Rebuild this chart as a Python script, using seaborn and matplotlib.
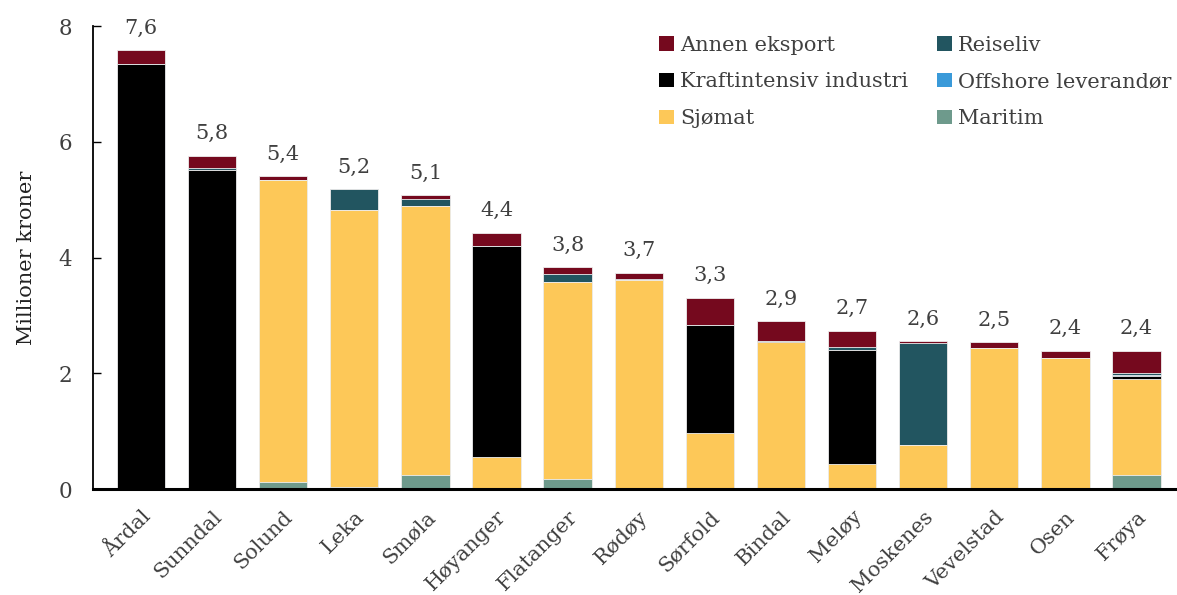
import numpy as np
import pandas as pd
import matplotlib
matplotlib.use("Agg")
import matplotlib.pyplot as plt
import seaborn as sns
from matplotlib.patches import Patch

kommuner = ["Årdal", "Sunndal", "Solund", "Leka", "Smøla", "Høyanger", "Flatanger",
            "Rødøy", "Sørfold", "Bindal", "Meløy", "Moskenes", "Vevelstad", "Osen", "Frøya"]

# verdier i millioner kroner, lest av figuren
maritim = [0.00, 0.00, 0.12, 0.03, 0.24, 0.00, 0.18, 0.00, 0.00, 0.00, 0.00, 0.00, 0.00, 0.00, 0.25]
sjomat = [0.00, 0.00, 5.23, 4.80, 4.66, 0.56, 3.40, 3.61, 0.97, 2.54, 0.44, 0.76, 2.44, 2.27, 1.66]
kraft = [7.35, 5.52, 0.00, 0.00, 0.00, 3.64, 0.00, 0.00, 1.87, 0.02, 1.97, 0.00, 0.00, 0.00, 0.04]
offshore = [0.00, 0.00, 0.00, 0.00, 0.00, 0.00, 0.00, 0.00, 0.00, 0.00, 0.00, 0.00, 0.00, 0.00, 0.02]
reiseliv = [0.00, 0.03, 0.00, 0.35, 0.11, 0.00, 0.14, 0.02, 0.00, 0.00, 0.05, 1.76, 0.00, 0.00, 0.03]
annen = [0.23, 0.21, 0.06, 0.00, 0.07, 0.23, 0.11, 0.11, 0.47, 0.34, 0.28, 0.04, 0.10, 0.12, 0.39]

serier = ["Maritim", "Sjømat", "Kraftintensiv industri", "Offshore leverandør", "Reiseliv", "Annen eksport"]
farger = {"Maritim": "#6e9a8c", "Sjømat": "#fdc858", "Kraftintensiv industri": "#000000",
          "Offshore leverandør": "#3a9ad9", "Reiseliv": "#225560", "Annen eksport": "#75091e"}

df = pd.DataFrame({"Maritim": maritim, "Sjømat": sjomat, "Kraftintensiv industri": kraft,
                   "Offshore leverandør": offshore, "Reiseliv": reiseliv, "Annen eksport": annen},
                  index=kommuner)
cum = df[serier].cumsum(axis=1)

sns.set_theme(style="white")
plt.rcParams["font.family"] = ["DejaVu Serif"]
tekst = "#404040"

fig, ax = plt.subplots(figsize=(11.77, 5.95), dpi=100)
fig.subplots_adjust(left=0.079, right=1.0, top=0.956, bottom=0.178)

# stablet: tegn kumulative summer ovenfra og ned
for s in reversed(serier):
    sns.barplot(x=kommuner, y=cum[s].values, color=farger[s], width=0.68, saturation=1,
                linewidth=0.6, edgecolor="#eeeeee", ax=ax, zorder=2)

totals = df.sum(axis=1).values
for i, t in enumerate(totals):
    ax.annotate(f"{t:.1f}".replace(".", ","), (i, t), xytext=(0, 9),
                textcoords="offset points", ha="center", va="bottom",
                fontsize=15, color=tekst, annotation_clip=False)

ax.set_xlim(-0.675, 14.57)
ax.set_ylim(0, 8)
ax.set_yticks([0, 2, 4, 6, 8])
ax.set_ylabel("Millioner kroner", fontsize=15, color="#222222", labelpad=16)
ax.tick_params(axis="y", direction="in", length=6, width=1, color="black",
               pad=15, labelsize=15.5, labelcolor=tekst, left=True)
ax.tick_params(axis="x", length=0, pad=13, labelsize=15, labelcolor=tekst)
plt.setp(ax.get_xticklabels(), rotation=45, ha="right", rotation_mode="anchor")

sns.despine(ax=ax, top=True, right=True)
ax.spines["left"].set_color("black")
ax.spines["left"].set_linewidth(1.3)
ax.spines["bottom"].set_color("black")
ax.spines["bottom"].set_linewidth(2.2)

rekkefolge = ["Annen eksport", "Kraftintensiv industri", "Sjømat",
              "Reiseliv", "Offshore leverandør", "Maritim"]
handles = [Patch(facecolor=farger[s], edgecolor="none") for s in rekkefolge]
ax.legend(handles, rekkefolge, ncol=2, loc="upper right", bbox_to_anchor=(1.012, 1.02),
          frameon=False, fontsize=15, handlelength=0.7, handleheight=0.7,
          handletextpad=0.3, columnspacing=1.4, labelspacing=0.85,
          labelcolor=tekst)

fig.savefig("out.png", dpi=100)
